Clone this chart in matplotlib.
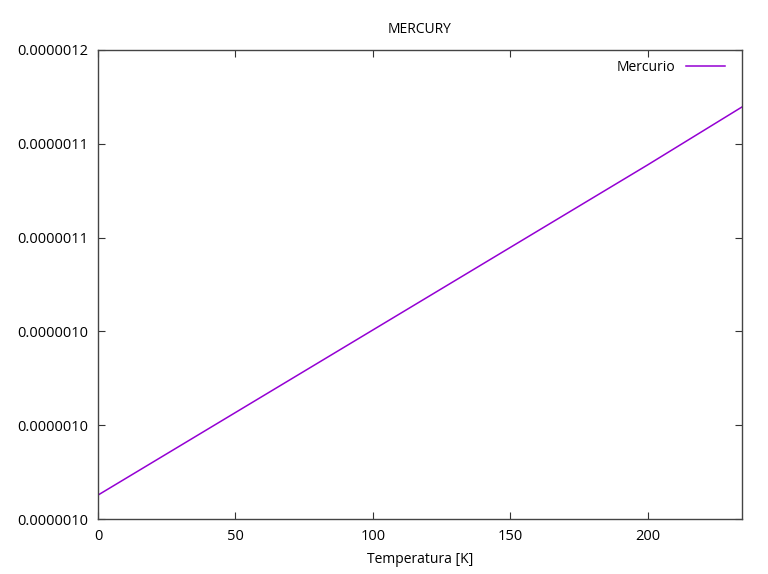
import matplotlib
matplotlib.use("Agg")
import matplotlib.pyplot as plt
from matplotlib.ticker import FormatStrFormatter

# temperatura [K] y valores
temperatura = [0, 50, 100, 150, 200, 234.32]
mercurio = [0.9702e-6, 1.0054e-6, 1.0406e-6, 1.0758e-6, 1.1110e-6, 1.1357e-6]
yticks = [0.96e-6, 1.00e-6, 1.04e-6, 1.08e-6, 1.12e-6, 1.16e-6]
xticks = [0, 50, 100, 150, 200]

plt.rcParams['font.family'] = ['Open Sans', 'DejaVu Sans']
plt.rcParams['font.size'] = 10

fig = plt.figure(figsize=(7.68, 5.74), dpi=100)
ax = fig.add_axes([0.1276, 0.0958, 0.8385, 0.8171])

ax.plot(temperatura, mercurio, color='#9400d3', lw=1.1, label='Mercurio')

ax.set_xlim(0, 234.32)
ax.set_ylim(yticks[0], yticks[-1])
ax.set_xticks(xticks)
ax.set_yticks(yticks)
ax.yaxis.set_major_formatter(FormatStrFormatter('%.7f'))

ax.tick_params(direction='in', length=5, width=0.8, top=True, right=True,
               color='#333333', labelsize=10.5, pad=7)
for s in ax.spines.values():
    s.set_color('#444444')
    s.set_linewidth(1.0)

ax.set_title('MERCURY', fontsize=10, pad=12)
ax.set_xlabel('Temperatura [K]', fontsize=10, labelpad=6)

leg = ax.legend(loc='upper right', bbox_to_anchor=(0.982, 0.99),
                frameon=False, markerfirst=False,
                handlelength=2.8, borderaxespad=0, fontsize=10)

fig.savefig('out.png', dpi=100)
